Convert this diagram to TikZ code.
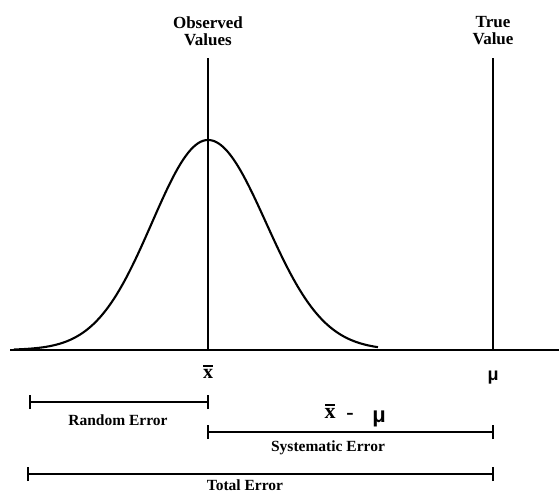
\documentclass[tikz,border=0pt]{standalone}
\usepackage{fontspec}
\setmainfont{Liberation Serif}
\newfontfamily\symfont{Liberation Sans}
\tikzset{
  ln/.style={line width=2.1pt, black},
  head/.style={font=\fontsize{17}{19}\selectfont\bfseries, align=center, inner sep=0pt},
  lab/.style={font=\fontsize{15.5}{17}\selectfont\bfseries, inner sep=0pt},
  sym/.style={font=\fontsize{20}{22}\selectfont\bfseries, inner sep=0pt},
}
\newcommand{\xbarsym}{\shortstack[c]{\rule{10pt}{2pt}\\[-1pt]x}}
\begin{document}
\begin{tikzpicture}[x=1pt,y=-1pt]
\useasboundingbox (0,0) rectangle (559,493);
\fill[white] (0,0) rectangle (559,493);
% axis
\coordinate (axL) at (10,350);
\coordinate (axR) at (559,350);
\draw[ln] (axL) -- (axR);
% vertical lines
\coordinate (obsT) at (208,58);
\coordinate (obsB) at (208,350);
\coordinate (trT) at (493,58);
\coordinate (trB) at (493,350);
\draw[ln] (obsT) -- (obsB);
\draw[ln] (trT) -- (trB);
% bell curve
\draw[ln, line join=round]
  plot[domain=14:208, samples=80, smooth] (\x,{350-210*exp(-0.5*((\x-208)/56)^2)})
  -- plot[domain=208:378, samples=80, smooth] (\x,{350-210*exp(-0.5*((\x-208)/58)^2)});
% headings
\node[head] (obs) at (208,31) {Observed\\[-2pt]Values};
\node[head] (tru) at (493,31) {True\\[-2pt]Value};
% symbols
\node[sym] (xb) at (208,372) {\xbarsym};
\node[sym, font=\fontsize{18}{20}\selectfont\bfseries] (mu) at (493,378) {\symfont μ};
% random error
\coordinate (rL) at (30,402);
\coordinate (rR) at (208,402);
\draw[ln] (rL) -- (rR);
\draw[ln] ([yshift=-7pt]rL) -- ([yshift=7pt]rL);
\draw[ln] ([yshift=-7pt]rR) -- ([yshift=7pt]rR);
\node[lab] (rlab) at (118,420) {Random Error};
% systematic error
\coordinate (sL) at (208,432);
\coordinate (sR) at (493,432);
\draw[ln] (sL) -- (sR);
\draw[ln] ([yshift=-7pt]sL) -- ([yshift=7pt]sL);
\draw[ln] ([yshift=-7pt]sR) -- ([yshift=7pt]sR);
\node[lab] (slab) at (328,448) {Systematic Error};
\node[sym, font=\fontsize{22}{24}\selectfont\bfseries] (xm) at (330,411) {\xbarsym};
\node[sym, font=\fontsize{22}{24}\selectfont\bfseries] (minus) at (350,416) {-};
\node[sym, font=\fontsize{22}{24}\selectfont\bfseries] (mu2) at (379,419) {\symfont μ};
% total error
\coordinate (tL) at (28,474);
\coordinate (tR) at (493,474);
\draw[ln] (tL) -- (tR);
\draw[ln] ([yshift=-7pt]tL) -- ([yshift=7pt]tL);
\draw[ln] ([yshift=-7pt]tR) -- ([yshift=7pt]tR);
\node[lab] (tlab) at (245,485) {Total Error};
\end{tikzpicture}
\end{document}
